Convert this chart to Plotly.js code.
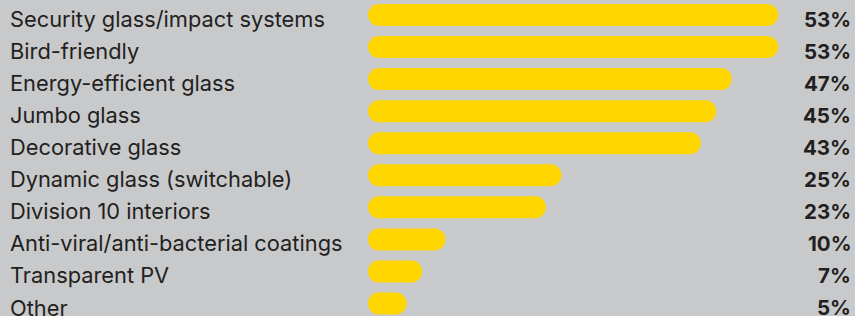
<!DOCTYPE html>
<html>
<head>
<meta charset="utf-8">
<script src="https://cdn.plot.ly/plotly-3.0.1.min.js"></script>
<style>
  html, body { margin: 0; padding: 0; background: #c8c9cb; }
  #chart { width: 855px; height: 316px; }
</style>
</head>
<body>
<div id="chart"></div>
<script>
const categories = [
  "Security glass/impact systems",
  "Bird-friendly",
  "Energy-efficient glass",
  "Jumbo glass",
  "Decorative glass",
  "Dynamic glass (switchable)",
  "Division 10 interiors",
  "Anti-viral/anti-bacterial coatings",
  "Transparent PV",
  "Other"
];
const values = [53, 53, 47, 45, 43, 25, 23, 10, 7, 5];
const valueLabels = ["53%", "53%", "47%", "45%", "43%", "25%", "23%", "10%", "7%", "5%"];

const barColor = "#ffd600";
const textColor = "#231f20";
const pxPerUnit = 7.74;
const thick = 22;                       // bar thickness in px
const capR = (thick / 2) / pxPerUnit;   // half bar thickness, in data units
const rowPx = 316 / 9.858;

const bars = {
  type: "bar",
  orientation: "h",
  y: categories,
  x: values.map(v => v - 2 * capR),
  base: values.map(() => capR),
  width: thick / rowPx,
  marker: { color: barColor, line: { width: 0 } },
  hoverinfo: "skip"
};
const leftCaps = {
  type: "scatter",
  mode: "markers",
  y: categories,
  x: values.map(() => capR),
  marker: { color: barColor, size: thick, line: { width: 0 } },
  hoverinfo: "skip",
  cliponaxis: false
};
const rightCaps = {
  type: "scatter",
  mode: "markers",
  y: categories,
  x: values.map(v => v - capR),
  marker: { color: barColor, size: thick, line: { width: 0 } },
  hoverinfo: "skip",
  cliponaxis: false
};

const annotations = [];
categories.forEach((c, i) => {
  annotations.push({
    xref: "paper", yref: "y", x: 0, y: c, xshift: -360,
    xanchor: "left", yanchor: "middle", yshift: -4, showarrow: false,
    text: c, font: { family: "Inter, sans-serif", size: 21.8, color: textColor }
  });
  annotations.push({
    xref: "paper", yref: "y", x: 1, y: c, xshift: -2,
    xanchor: "right", yanchor: "middle", yshift: -4, showarrow: false,
    text: "<b>" + valueLabels[i] + "</b>",
    font: { family: "Inter, sans-serif", size: 20.5, color: textColor }
  });
});

const layout = {
  width: 855, height: 316,
  margin: { l: 368, r: 0, t: 0, b: 0, pad: 0 },
  paper_bgcolor: "#c8c9cb",
  plot_bgcolor: "#c8c9cb",
  showlegend: false,
  xaxis: { range: [0, 487 / pxPerUnit], visible: false, fixedrange: true },
  yaxis: {
    type: "category", categoryorder: "array", categoryarray: categories,
    range: [9.39, -0.468], visible: false, fixedrange: true
  },
  annotations: annotations
};

Plotly.newPlot("chart", [bars, leftCaps, rightCaps], layout, { displayModeBar: false, staticPlot: true });
</script>
</body>
</html>
